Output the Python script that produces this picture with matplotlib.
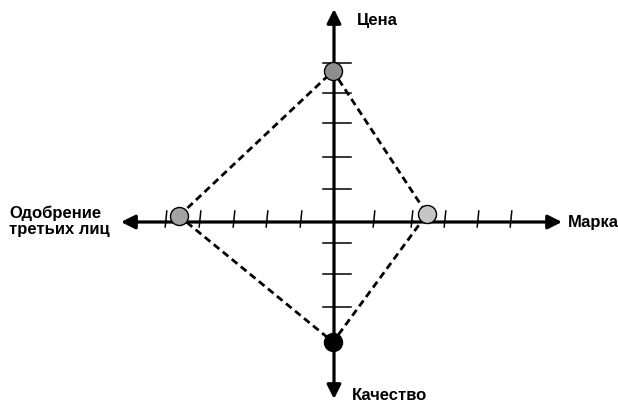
import matplotlib.pyplot as plt

# points on the four axes (pixel-like units, origin at the cross)
categories = ['Одобрение\nтретьих лиц', 'Цена', 'Марка', 'Качество']
point_x = [-155, -1, 93, -1]
point_y = [6, 151, 8, -120]
point_colors = ['#a3a3a3', '#8e8e8e', '#c6c6c6', '#000000']

x_ticks = [-168, -134, -100, -67, -33, 40, 78, 111, 144, 177]
y_ticks = [159, 129, 99, 65, 33, -21, -52, -85]


def main():
    fig = plt.figure(figsize=(6.18, 4.05), dpi=100)
    ax = fig.add_axes([0, 0, 1, 1])
    ax.set_xlim(-334, 284)
    ax.set_ylim(-183, 222)
    ax.axis('off')

    # axes with arrows
    arr = dict(arrowstyle='<|-|>', lw=2.3, color='black', mutation_scale=21,
               shrinkA=0, shrinkB=0)
    ax.annotate('', xy=(-213, 0), xytext=(228, 0), arrowprops=arr)
    ax.annotate('', xy=(0, 213), xytext=(0, -177), arrowprops=arr)

    for t in x_ticks:
        ax.plot([t - 0.8, t + 0.8], [-5, 11], color='black', lw=1.1)
    for t in y_ticks:
        ax.plot([-11, 17], [t, t], color='black', lw=1.1)

    # dashed diamond
    xs = point_x + point_x[:1]
    ys = point_y + point_y[:1]
    ax.plot(xs, ys, color='black', lw=2.0, dashes=(2.6, 1.6), zorder=3)

    for x, y, c in zip(point_x, point_y, point_colors):
        ax.plot(x, y, 'o', ms=13, mfc=c, mec='black', mew=1.0, zorder=4)

    kw = dict(fontsize=12, fontweight='bold', family='Liberation Sans')
    ax.text(23, 201, categories[1], ha='left', va='center', **kw)
    ax.text(234, -1, categories[2], ha='left', va='center', **kw)
    ax.text(18, -173, categories[3], ha='left', va='center', **kw)
    ax.text(-325, 1, categories[0], ha='left', va='center',
            linespacing=1.1, **kw)

    plt.savefig('out.png', dpi=100)


if __name__ == '__main__':
    main()
